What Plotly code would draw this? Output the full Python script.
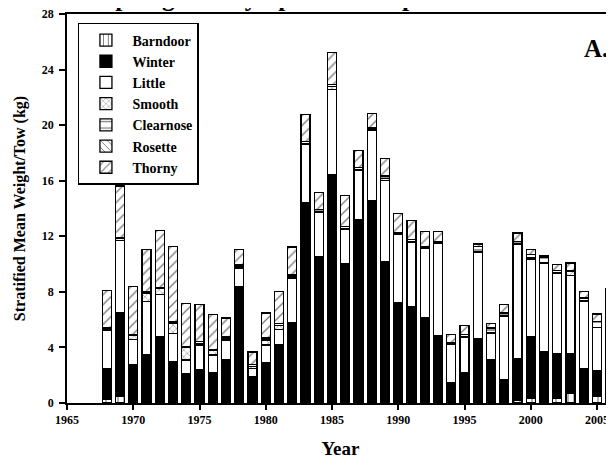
import plotly.graph_objects as go

years = list(range(1968, 2007))

barndoor = [0.27, 0.45, 0, 0, 0.15, 0, 0, 0, 0, 0,
            0, 0, 0, 0, 0, 0, 0, 0, 0, 0,
            0, 0, 0, 0, 0, 0, 0, 0, 0, 0,
            0, 0.2, 0.34, 0, 0.3, 0.7, 0, 0.5, 1.37]
winter = [2.18, 6.02, 2.74, 3.46, 4.65, 2.98, 2.09, 2.38, 2.19, 3.1,
          8.35, 1.9, 2.94, 4.18, 5.75, 14.4, 10.51, 16.45, 10.03, 13.2,
          14.57, 10.19, 7.19, 6.95, 6.11, 4.83, 1.47, 2.19, 4.6, 3.1,
          1.66, 2.97, 4.44, 3.68, 3.24, 2.84, 2.5, 1.81, 3.01]
little = [2.81, 5.24, 1.85, 3.85, 3.0, 2.0, 1.0, 1.8, 1.27, 1.4,
          1.37, 0.6, 1.24, 1.1, 3.25, 4.2, 3.22, 6.13, 2.45, 3.54,
          5.05, 5.85, 4.93, 4.64, 5.05, 6.69, 2.73, 2.55, 6.25, 1.9,
          4.57, 8.23, 5.59, 6.4, 5.77, 5.62, 4.81, 3.1, 3.4]
smooth = [0.07, 0.17, 0.3, 0.6, 0.45, 0.75, 0.9, 0.1, 0.35, 0.1,
          0.15, 0.15, 0.35, 0.3, 0.15, 0.1, 0.05, 0.2, 0.1, 0.05,
          0.1, 0.1, 0.05, 0.05, 0.05, 0.05, 0.05, 0.05, 0.05, 0.05,
          0.05, 0.05, 0.1, 0.05, 0.05, 0.3, 0.05, 0.05, 0.05]
clearnose = [0.07, 0.05, 0.05, 0.12, 0.08, 0.1, 0.1, 0.15, 0.06, 0.15,
             0.1, 0.1, 0.15, 0.12, 0.1, 0.1, 0.14, 0.15, 0.14, 0.14,
             0.1, 0.19, 0.07, 0.12, 0.07, 0.07, 0.1, 0.12, 0.35, 0.35,
             0.19, 0.19, 0.21, 0.38, 0.2, 0.1, 0.19, 0.4, 0.25]
rosette = [0] * 39
thorny = [2.68, 3.7, 3.45, 3.01, 4.1, 5.45, 3.05, 2.64, 2.48, 1.37,
          1.08, 0.92, 1.8, 2.35, 1.98, 1.98, 1.21, 2.3, 2.2, 1.27,
          1.01, 1.25, 1.4, 1.39, 1.08, 0.72, 0.56, 0.67, 0.2, 0.3,
          0.6, 0.6, 0.36, 0.1, 0.4, 0.52, 0.48, 0.55, 0.12]

FONT = "Liberation Serif, Times New Roman, serif"

# name, values, fill, hatch, hatch size
series = [
    ("Barndoor", barndoor, "white", "|", 6),
    ("Winter", winter, "black", "", 8),
    ("Little", little, "white", "", 8),
    ("Smooth", smooth, "white", "x", 5),
    ("Clearnose", clearnose, "white", "-", 8),
    ("Rosette", rosette, "white", "\\", 6),
    ("Thorny", thorny, "white", "/", 7),
]

fig = go.Figure()

for name, vals, color, shape, size in series:
    fig.add_trace(go.Bar(
        x=years, y=vals, name=name, width=0.68,
        marker=dict(
            color=color,
            line=dict(color="black", width=1.3),
            pattern=dict(shape=shape, fgcolor="black", bgcolor=color,
                         size=size, solidity=0.2),
        ),
    ))

# title is cut off by the top edge in the original, only descenders show
fig.add_annotation(
    text="Spring Survey Species Composition", xref="paper", yref="paper",
    x=0.0594, y=1.0, xanchor="left", yanchor="bottom", showarrow=False,
    font=dict(family=FONT, size=25.5, color="black", weight="bold"),
)
fig.add_annotation(
    text="A.", xref="paper", yref="paper", x=0.993, y=0.912,
    xanchor="right", yanchor="middle", showarrow=False,
    font=dict(family=FONT, size=25, color="black", weight="bold"),
)

fig.update_layout(
    width=606, height=458,
    margin=dict(l=59, r=0, t=6, b=63),
    barmode="stack",
    plot_bgcolor="white", paper_bgcolor="white",
    font=dict(family=FONT, color="black"),
    legend=dict(
        x=0.02, y=0.977, xanchor="left", yanchor="top",
        traceorder="normal", bordercolor="black", borderwidth=1.5,
        bgcolor="white", itemwidth=43,
        font=dict(family=FONT, size=14, color="black", weight="bold"),
    ),
    xaxis=dict(
        range=[1965, 2006.28], tickmode="linear", tick0=1965, dtick=5,
        showline=True, linecolor="black", linewidth=1.5, mirror=True,
        ticks="outside", ticklen=5, tickcolor="black", tickwidth=1.5,
        showgrid=False, zeroline=False,
        tickfont=dict(family=FONT, size=12, weight="bold"),
        title=dict(text="Year", standoff=16,
                   font=dict(family=FONT, size=19, weight="bold")),
    ),
    yaxis=dict(
        range=[0, 28], tickmode="linear", tick0=0, dtick=4,
        showline=True, linecolor="black", linewidth=1.5,
        ticks="outside", ticklen=6, tickcolor="black", tickwidth=1.5,
        ticklabelstandoff=3, ticklabeloverflow="allow",
        showgrid=False, zeroline=False,
        tickfont=dict(family=FONT, size=12, weight="bold"),
        title=dict(text="Stratified Mean Weight/Tow (kg)", standoff=12,
                   font=dict(family=FONT, size=16, weight="bold")),
    ),
)

fig.write_html("out.html")
